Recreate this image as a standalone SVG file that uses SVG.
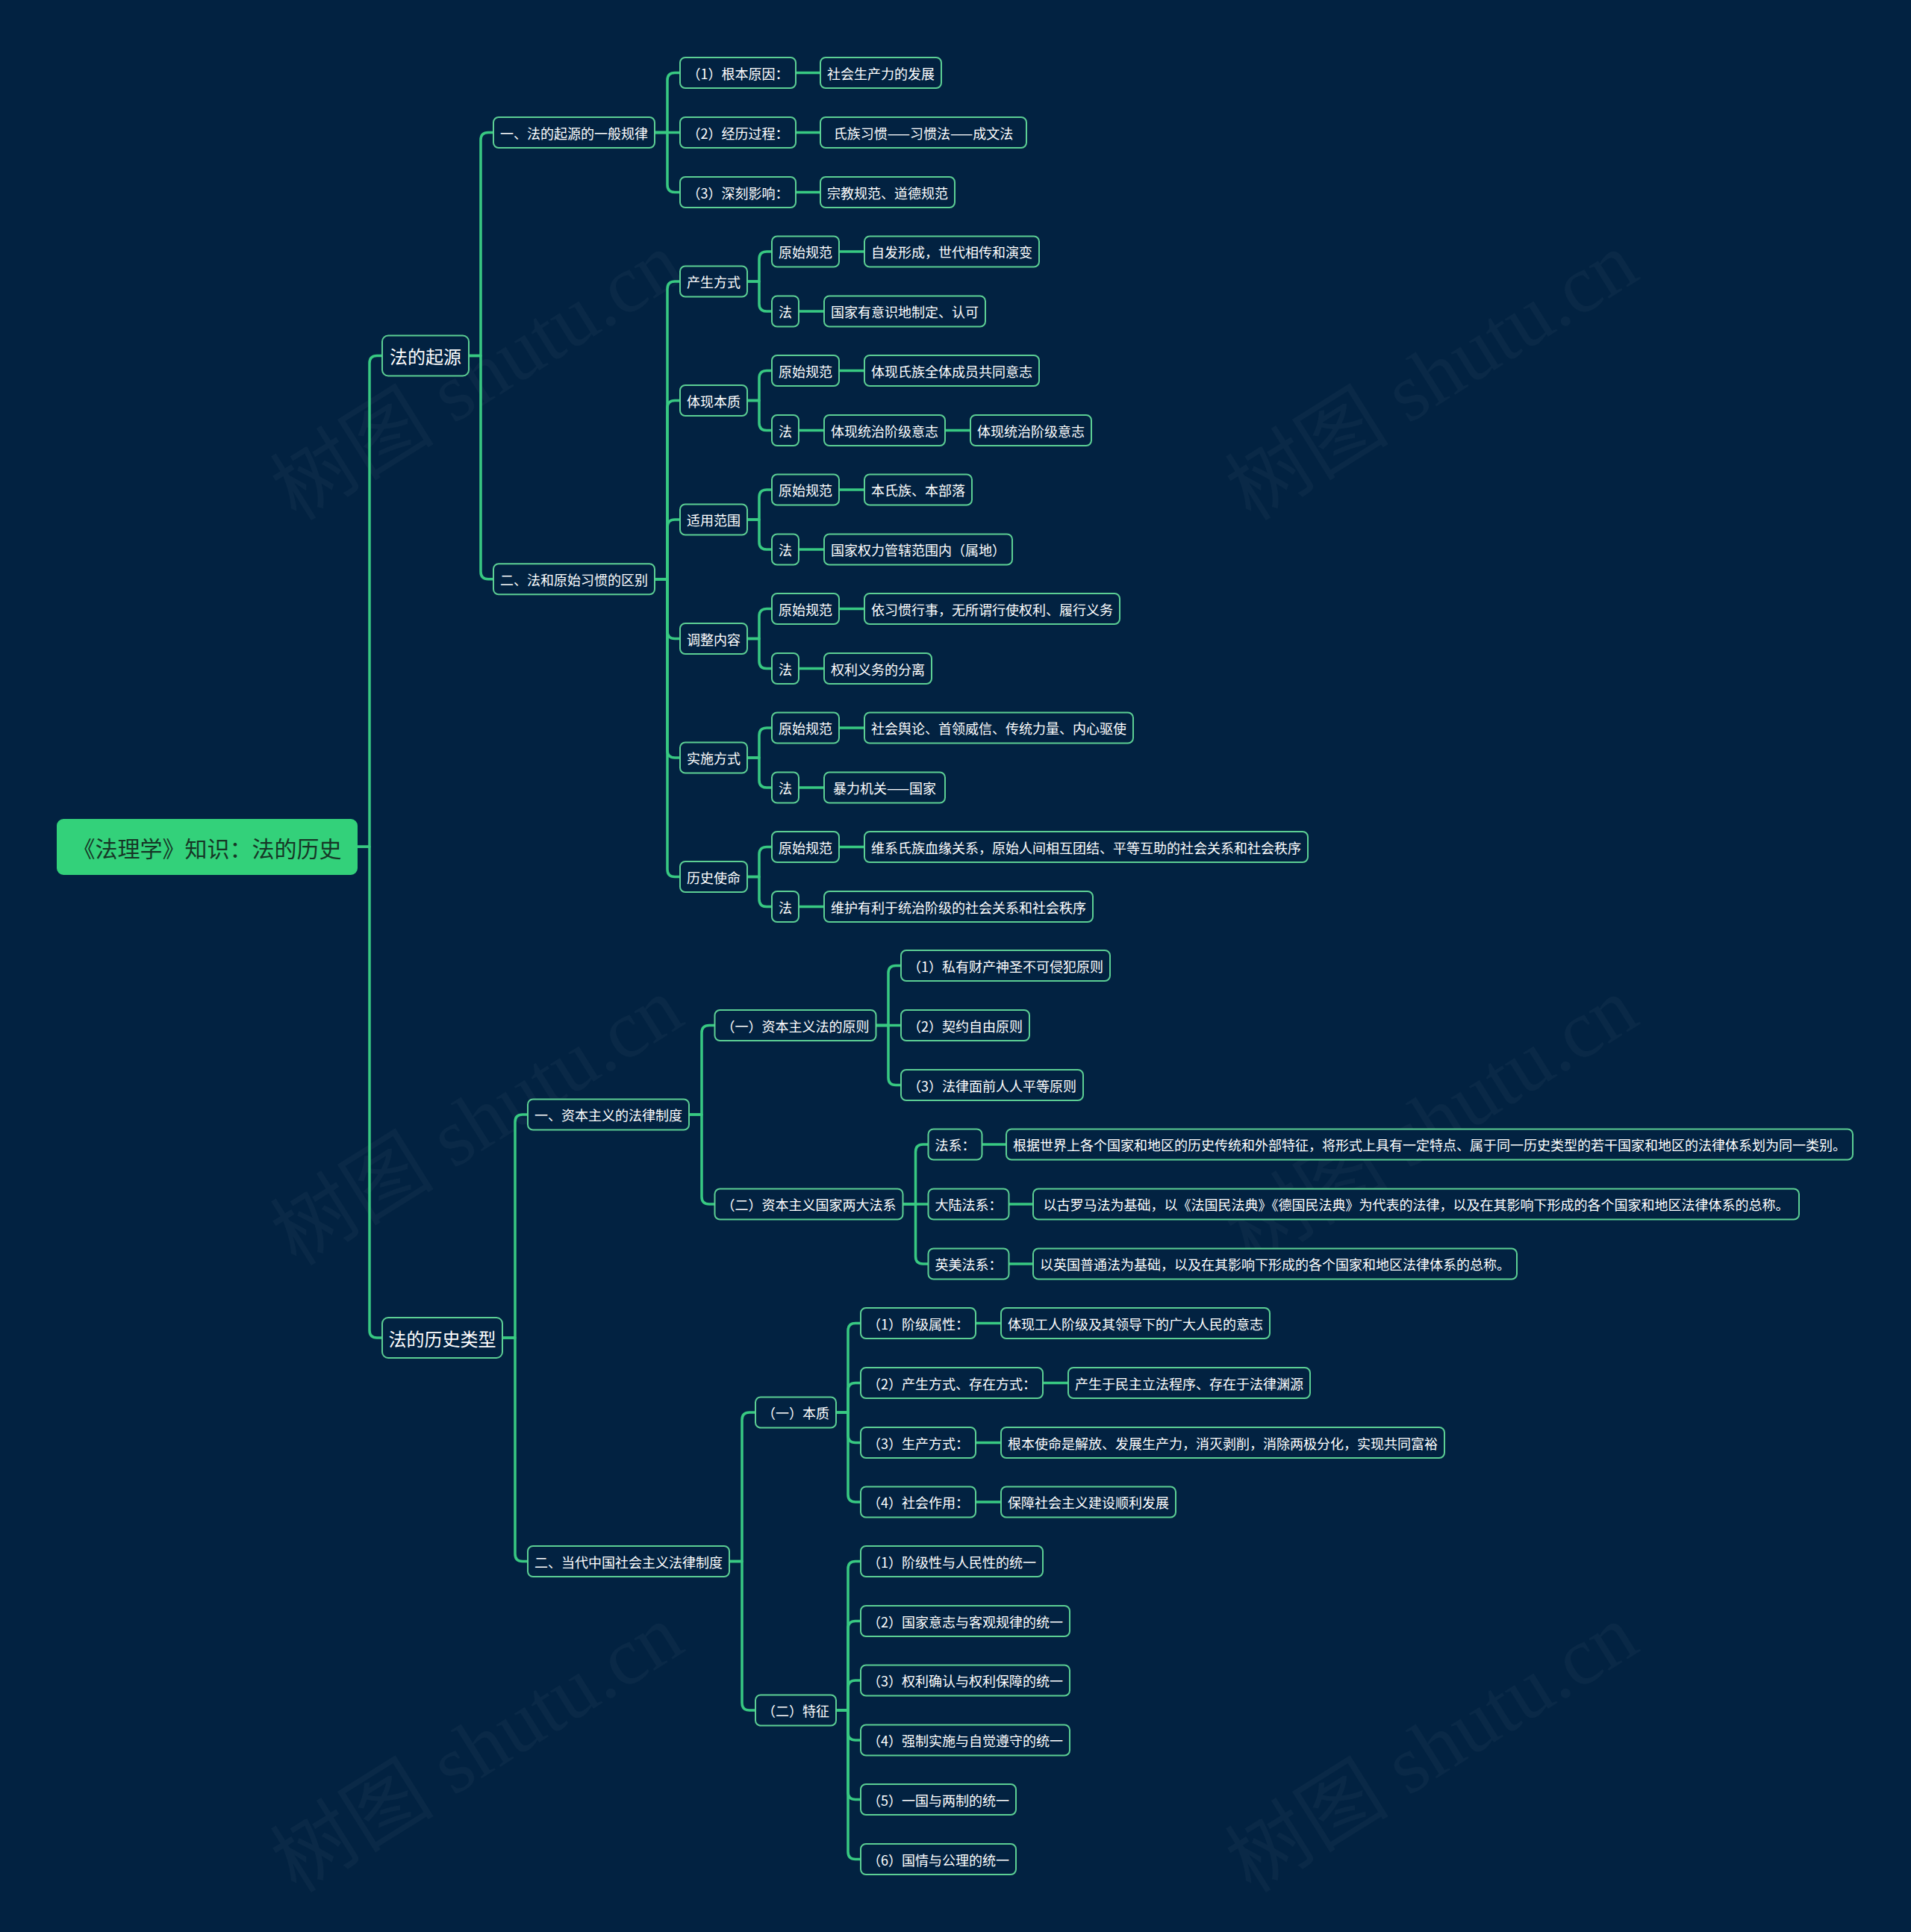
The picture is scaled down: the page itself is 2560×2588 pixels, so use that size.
<svg xmlns="http://www.w3.org/2000/svg" width="2560" height="2588" viewBox="0 0 2560 2588">
<style>
.bg{fill:#022241}
.wm{fill:#ffffff;fill-opacity:0.035;font-family:"Liberation Serif","Noto Sans CJK SC",serif;font-size:110px;text-anchor:middle}
.c path{fill:none;stroke:#38c982;stroke-width:3.5;stroke-linecap:round;stroke-linejoin:round}
.n rect{fill:#022241;stroke:#5ccf94;stroke-width:2}
.n text{fill:#ffffff;font-family:"Noto Sans CJK SC","Noto Sans CJK TC",sans-serif;font-size:18px;text-anchor:middle;dominant-baseline:central}
.l1 text{font-size:24px}
.root rect{fill:#33d17a;stroke:#33d17a}
.root text{fill:#163626;font-size:30px}
</style>
<rect class="bg" x="0" y="0" width="2560" height="2588"/>
<g id="watermarks">
<text class="wm" x="644" y="540" transform="rotate(-32 644 512)">树图 shutu.cn</text>
<text class="wm" x="1923" y="540" transform="rotate(-32 1923 512)">树图 shutu.cn</text>
<text class="wm" x="644" y="1538" transform="rotate(-32 644 1510)">树图 shutu.cn</text>
<text class="wm" x="1923" y="1538" transform="rotate(-32 1923 1510)">树图 shutu.cn</text>
<text class="wm" x="644" y="2378" transform="rotate(-32 644 2350)">树图 shutu.cn</text>
<text class="wm" x="1923" y="2378" transform="rotate(-32 1923 2350)">树图 shutu.cn</text>
</g>
<g id="connectors" class="c">
<path d="M478 1134.3 H495 V486.5 Q495 476.5 505 476.5 H512"/>
<path d="M478 1134.3 H495 V1782 Q495 1792 505 1792 H512"/>
<path d="M628 476.5 H644 V187.5 Q644 177.5 654 177.5 H661"/>
<path d="M628 476.5 H644 V765.75 Q644 775.75 654 775.75 H661"/>
<path d="M876 177.5 H894 V107.5 Q894 97.5 904 97.5 H911"/>
<path d="M876 177.5 H911"/>
<path d="M876 177.5 H894 V247.5 Q894 257.5 904 257.5 H911"/>
<path d="M1066 97.5 H1099"/>
<path d="M1066 177.5 H1099"/>
<path d="M1066 257.5 H1099"/>
<path d="M877 775.75 H894 V387 Q894 377 904 377 H911"/>
<path d="M877 775.75 H894 V546.5 Q894 536.5 904 536.5 H911"/>
<path d="M877 775.75 H894 V706 Q894 696 904 696 H911"/>
<path d="M877 775.75 H894 V845.5 Q894 855.5 904 855.5 H911"/>
<path d="M877 775.75 H894 V1005 Q894 1015 904 1015 H911"/>
<path d="M877 775.75 H894 V1164.5 Q894 1174.5 904 1174.5 H911"/>
<path d="M1001 377 H1017 V347 Q1017 337 1027 337 H1034"/>
<path d="M1001 377 H1017 V407 Q1017 417 1027 417 H1034"/>
<path d="M1001 536.5 H1017 V506.5 Q1017 496.5 1027 496.5 H1034"/>
<path d="M1001 536.5 H1017 V566.5 Q1017 576.5 1027 576.5 H1034"/>
<path d="M1001 696 H1017 V666 Q1017 656 1027 656 H1034"/>
<path d="M1001 696 H1017 V726 Q1017 736 1027 736 H1034"/>
<path d="M1001 855.5 H1017 V825.5 Q1017 815.5 1027 815.5 H1034"/>
<path d="M1001 855.5 H1017 V885.5 Q1017 895.5 1027 895.5 H1034"/>
<path d="M1001 1015 H1017 V985 Q1017 975 1027 975 H1034"/>
<path d="M1001 1015 H1017 V1045 Q1017 1055 1027 1055 H1034"/>
<path d="M1001 1174.5 H1017 V1144.5 Q1017 1134.5 1027 1134.5 H1034"/>
<path d="M1001 1174.5 H1017 V1204.5 Q1017 1214.5 1027 1214.5 H1034"/>
<path d="M1124 337 H1158"/>
<path d="M1070 417 H1104"/>
<path d="M1124 496.5 H1158"/>
<path d="M1070 576.5 H1104"/>
<path d="M1266 576.5 H1300"/>
<path d="M1124 656 H1158"/>
<path d="M1070 736 H1104"/>
<path d="M1124 815.5 H1158"/>
<path d="M1070 895.5 H1104"/>
<path d="M1124 975 H1158"/>
<path d="M1070 1055 H1104"/>
<path d="M1124 1134.5 H1158"/>
<path d="M1070 1214.5 H1104"/>
<path d="M673 1792 H690 V1503 Q690 1493 700 1493 H707"/>
<path d="M673 1792 H690 V2081.5 Q690 2091.5 700 2091.5 H707"/>
<path d="M923 1493 H940 V1383.5 Q940 1373.5 950 1373.5 H957.5"/>
<path d="M923 1493 H940 V1603 Q940 1613 950 1613 H957.5"/>
<path d="M1173.5 1373.5 H1190 V1303.5 Q1190 1293.5 1200 1293.5 H1207"/>
<path d="M1173.5 1373.5 H1207"/>
<path d="M1173.5 1373.5 H1190 V1443.5 Q1190 1453.5 1200 1453.5 H1207"/>
<path d="M1209.5 1613 H1226.5 V1543 Q1226.5 1533 1236.5 1533 H1243.5"/>
<path d="M1209.5 1613 H1243.5"/>
<path d="M1209.5 1613 H1226.5 V1683 Q1226.5 1693 1236.5 1693 H1243.5"/>
<path d="M1315.5 1533 H1348"/>
<path d="M1351.5 1613 H1384"/>
<path d="M1351.5 1693 H1384"/>
<path d="M977 2091.5 H994 V1902 Q994 1892 1004 1892 H1012"/>
<path d="M977 2091.5 H994 V2281 Q994 2291 1004 2291 H1012"/>
<path d="M1120 1892 H1136 V1782.5 Q1136 1772.5 1146 1772.5 H1153"/>
<path d="M1120 1892 H1136 V1862.5 Q1136 1852.5 1146 1852.5 H1153"/>
<path d="M1120 1892 H1136 V1922.5 Q1136 1932.5 1146 1932.5 H1153"/>
<path d="M1120 1892 H1136 V2002 Q1136 2012 1146 2012 H1153"/>
<path d="M1307 1772.5 H1341"/>
<path d="M1397 1852.5 H1431"/>
<path d="M1307 1932.5 H1341"/>
<path d="M1307 2012 H1341"/>
<path d="M1120 2291 H1136 V2101.5 Q1136 2091.5 1146 2091.5 H1153"/>
<path d="M1120 2291 H1136 V2181.5 Q1136 2171.5 1146 2171.5 H1153"/>
<path d="M1120 2291 H1136 V2261 Q1136 2251 1146 2251 H1153"/>
<path d="M1120 2291 H1136 V2321 Q1136 2331 1146 2331 H1153"/>
<path d="M1120 2291 H1136 V2400.5 Q1136 2410.5 1146 2410.5 H1153"/>
<path d="M1120 2291 H1136 V2480.5 Q1136 2490.5 1146 2490.5 H1153"/>
</g>
<g id="root" class="n root"><rect x="77" y="1098" width="401" height="73" rx="8"/><text x="277.5" y="1134.5">《法理学》知识：法的历史</text></g>
<g id="n1" class="n l1"><rect x="512" y="449.5" width="116" height="54" rx="8"/><text x="570" y="476.5">法的起源</text></g>
<g id="n2" class="n l1"><rect x="512" y="1765" width="161" height="54" rx="8"/><text x="592.5" y="1792">法的历史类型</text></g>
<g id="n1a" class="n"><rect x="661" y="157" width="216" height="41" rx="7"/><text x="769" y="177.5">一、法的起源的一般规律</text></g>
<g id="n1b" class="n"><rect x="661" y="755.25" width="216" height="41" rx="7"/><text x="769" y="775.75">二、法和原始习惯的区别</text></g>
<g id="n1a1" class="n"><rect x="911" y="77" width="155" height="41" rx="7"/><text x="988.5" y="97.5">（1）根本原因：</text></g>
<g id="n1a2" class="n"><rect x="911" y="157" width="155" height="41" rx="7"/><text x="988.5" y="177.5">（2）经历过程：</text></g>
<g id="n1a3" class="n"><rect x="911" y="237" width="155" height="41" rx="7"/><text x="988.5" y="257.5">（3）深刻影响：</text></g>
<g id="n1a1l" class="n"><rect x="1099" y="77" width="162" height="41" rx="7"/><text x="1180" y="97.5">社会生产力的发展</text></g>
<g id="n1a2l" class="n"><rect x="1099" y="157" width="276" height="41" rx="7"/><text x="1237" y="177.5">氏族习惯——习惯法——成文法</text></g>
<g id="n1a3l" class="n"><rect x="1099" y="237" width="180" height="41" rx="7"/><text x="1189" y="257.5">宗教规范、道德规范</text></g>
<g id="n1b1" class="n"><rect x="911" y="356.5" width="90" height="41" rx="7"/><text x="956" y="377">产生方式</text></g>
<g id="n1b2" class="n"><rect x="911" y="516" width="90" height="41" rx="7"/><text x="956" y="536.5">体现本质</text></g>
<g id="n1b3" class="n"><rect x="911" y="675.5" width="90" height="41" rx="7"/><text x="956" y="696">适用范围</text></g>
<g id="n1b4" class="n"><rect x="911" y="835" width="90" height="41" rx="7"/><text x="956" y="855.5">调整内容</text></g>
<g id="n1b5" class="n"><rect x="911" y="994.5" width="90" height="41" rx="7"/><text x="956" y="1015">实施方式</text></g>
<g id="n1b6" class="n"><rect x="911" y="1154" width="90" height="41" rx="7"/><text x="956" y="1174.5">历史使命</text></g>
<g id="n1b1a" class="n"><rect x="1034" y="316.5" width="90" height="41" rx="7"/><text x="1079" y="337">原始规范</text></g>
<g id="n1b1b" class="n"><rect x="1034" y="396.5" width="36" height="41" rx="7"/><text x="1052" y="417">法</text></g>
<g id="n1b2a" class="n"><rect x="1034" y="476" width="90" height="41" rx="7"/><text x="1079" y="496.5">原始规范</text></g>
<g id="n1b2b" class="n"><rect x="1034" y="556" width="36" height="41" rx="7"/><text x="1052" y="576.5">法</text></g>
<g id="n1b3a" class="n"><rect x="1034" y="635.5" width="90" height="41" rx="7"/><text x="1079" y="656">原始规范</text></g>
<g id="n1b3b" class="n"><rect x="1034" y="715.5" width="36" height="41" rx="7"/><text x="1052" y="736">法</text></g>
<g id="n1b4a" class="n"><rect x="1034" y="795" width="90" height="41" rx="7"/><text x="1079" y="815.5">原始规范</text></g>
<g id="n1b4b" class="n"><rect x="1034" y="875" width="36" height="41" rx="7"/><text x="1052" y="895.5">法</text></g>
<g id="n1b5a" class="n"><rect x="1034" y="954.5" width="90" height="41" rx="7"/><text x="1079" y="975">原始规范</text></g>
<g id="n1b5b" class="n"><rect x="1034" y="1034.5" width="36" height="41" rx="7"/><text x="1052" y="1055">法</text></g>
<g id="n1b6a" class="n"><rect x="1034" y="1114" width="90" height="41" rx="7"/><text x="1079" y="1134.5">原始规范</text></g>
<g id="n1b6b" class="n"><rect x="1034" y="1194" width="36" height="41" rx="7"/><text x="1052" y="1214.5">法</text></g>
<g id="n1b1al" class="n"><rect x="1158" y="316.5" width="234" height="41" rx="7"/><text x="1275" y="337">自发形成，世代相传和演变</text></g>
<g id="n1b1bl" class="n"><rect x="1104" y="396.5" width="216" height="41" rx="7"/><text x="1212" y="417">国家有意识地制定、认可</text></g>
<g id="n1b2al" class="n"><rect x="1158" y="476" width="234" height="41" rx="7"/><text x="1275" y="496.5">体现氏族全体成员共同意志</text></g>
<g id="n1b2bl" class="n"><rect x="1104" y="556" width="162" height="41" rx="7"/><text x="1185" y="576.5">体现统治阶级意志</text></g>
<g id="n1b2bl2" class="n"><rect x="1300" y="556" width="162" height="41" rx="7"/><text x="1381" y="576.5">体现统治阶级意志</text></g>
<g id="n1b3al" class="n"><rect x="1158" y="635.5" width="144" height="41" rx="7"/><text x="1230" y="656">本氏族、本部落</text></g>
<g id="n1b3bl" class="n"><rect x="1104" y="715.5" width="252" height="41" rx="7"/><text x="1230" y="736">国家权力管辖范围内（属地）</text></g>
<g id="n1b4al" class="n"><rect x="1158" y="795" width="342" height="41" rx="7"/><text x="1329" y="815.5">依习惯行事，无所谓行使权利、履行义务</text></g>
<g id="n1b4bl" class="n"><rect x="1104" y="875" width="144" height="41" rx="7"/><text x="1176" y="895.5">权利义务的分离</text></g>
<g id="n1b5al" class="n"><rect x="1158" y="954.5" width="360" height="41" rx="7"/><text x="1338" y="975">社会舆论、首领威信、传统力量、内心驱使</text></g>
<g id="n1b5bl" class="n"><rect x="1104" y="1034.5" width="162" height="41" rx="7"/><text x="1185" y="1055">暴力机关——国家</text></g>
<g id="n1b6al" class="n"><rect x="1158" y="1114" width="594" height="41" rx="7"/><text x="1455" y="1134.5">维系氏族血缘关系，原始人间相互团结、平等互助的社会关系和社会秩序</text></g>
<g id="n1b6bl" class="n"><rect x="1104" y="1194" width="360" height="41" rx="7"/><text x="1284" y="1214.5">维护有利于统治阶级的社会关系和社会秩序</text></g>
<g id="n2a" class="n"><rect x="707" y="1472.5" width="216" height="41" rx="7"/><text x="815" y="1493">一、资本主义的法律制度</text></g>
<g id="n2b" class="n"><rect x="707" y="2071" width="270" height="41" rx="7"/><text x="842" y="2091.5">二、当代中国社会主义法律制度</text></g>
<g id="n2a1" class="n"><rect x="957.5" y="1353" width="216" height="41" rx="7"/><text x="1065.5" y="1373.5">（一）资本主义法的原则</text></g>
<g id="n2a2" class="n"><rect x="957.5" y="1592.5" width="252" height="41" rx="7"/><text x="1083.5" y="1613">（二）资本主义国家两大法系</text></g>
<g id="n2a1a" class="n"><rect x="1207" y="1273" width="280" height="41" rx="7"/><text x="1347" y="1293.5">（1）私有财产神圣不可侵犯原则</text></g>
<g id="n2a1b" class="n"><rect x="1207" y="1353" width="172" height="41" rx="7"/><text x="1293" y="1373.5">（2）契约自由原则</text></g>
<g id="n2a1c" class="n"><rect x="1207" y="1433" width="244" height="41" rx="7"/><text x="1329" y="1453.5">（3）法律面前人人平等原则</text></g>
<g id="n2a2a" class="n"><rect x="1243.5" y="1512.5" width="72" height="41" rx="7"/><text x="1279.5" y="1533">法系：</text></g>
<g id="n2a2b" class="n"><rect x="1243.5" y="1592.5" width="108" height="41" rx="7"/><text x="1297.5" y="1613">大陆法系：</text></g>
<g id="n2a2c" class="n"><rect x="1243.5" y="1672.5" width="108" height="41" rx="7"/><text x="1297.5" y="1693">英美法系：</text></g>
<g id="n2a2al" class="n"><rect x="1348" y="1512.5" width="1134" height="41" rx="7"/><text x="1915" y="1533">根据世界上各个国家和地区的历史传统和外部特征，将形式上具有一定特点、属于同一历史类型的若干国家和地区的法律体系划为同一类别。</text></g>
<g id="n2a2bl" class="n"><rect x="1384" y="1592.5" width="1026" height="41" rx="7"/><text x="1897" y="1613">以古罗马法为基础，以《法国民法典》《德国民法典》为代表的法律，以及在其影响下形成的各个国家和地区法律体系的总称。</text></g>
<g id="n2a2cl" class="n"><rect x="1384" y="1672.5" width="648" height="41" rx="7"/><text x="1708" y="1693">以英国普通法为基础，以及在其影响下形成的各个国家和地区法律体系的总称。</text></g>
<g id="n2b1" class="n"><rect x="1012" y="1871.5" width="108" height="41" rx="7"/><text x="1066" y="1892">（一）本质</text></g>
<g id="n2b2" class="n"><rect x="1012" y="2270.5" width="108" height="41" rx="7"/><text x="1066" y="2291">（二）特征</text></g>
<g id="n2b1a" class="n"><rect x="1153" y="1752" width="154" height="41" rx="7"/><text x="1230" y="1772.5">（1）阶级属性：</text></g>
<g id="n2b1b" class="n"><rect x="1153" y="1832" width="244" height="41" rx="7"/><text x="1275" y="1852.5">（2）产生方式、存在方式：</text></g>
<g id="n2b1c" class="n"><rect x="1153" y="1912" width="154" height="41" rx="7"/><text x="1230" y="1932.5">（3）生产方式：</text></g>
<g id="n2b1d" class="n"><rect x="1153" y="1991.5" width="154" height="41" rx="7"/><text x="1230" y="2012">（4）社会作用：</text></g>
<g id="n2b1al" class="n"><rect x="1341" y="1752" width="360" height="41" rx="7"/><text x="1521" y="1772.5">体现工人阶级及其领导下的广大人民的意志</text></g>
<g id="n2b1bl" class="n"><rect x="1431" y="1832" width="324" height="41" rx="7"/><text x="1593" y="1852.5">产生于民主立法程序、存在于法律渊源</text></g>
<g id="n2b1cl" class="n"><rect x="1341" y="1912" width="594" height="41" rx="7"/><text x="1638" y="1932.5">根本使命是解放、发展生产力，消灭剥削，消除两极分化，实现共同富裕</text></g>
<g id="n2b1dl" class="n"><rect x="1341" y="1991.5" width="234" height="41" rx="7"/><text x="1458" y="2012">保障社会主义建设顺利发展</text></g>
<g id="n2b2a" class="n"><rect x="1153" y="2071" width="244" height="41" rx="7"/><text x="1275" y="2091.5">（1）阶级性与人民性的统一</text></g>
<g id="n2b2b" class="n"><rect x="1153" y="2151" width="280" height="41" rx="7"/><text x="1293" y="2171.5">（2）国家意志与客观规律的统一</text></g>
<g id="n2b2c" class="n"><rect x="1153" y="2230.5" width="280" height="41" rx="7"/><text x="1293" y="2251">（3）权利确认与权利保障的统一</text></g>
<g id="n2b2d" class="n"><rect x="1153" y="2310.5" width="280" height="41" rx="7"/><text x="1293" y="2331">（4）强制实施与自觉遵守的统一</text></g>
<g id="n2b2e" class="n"><rect x="1153" y="2390" width="208" height="41" rx="7"/><text x="1257" y="2410.5">（5）一国与两制的统一</text></g>
<g id="n2b2f" class="n"><rect x="1153" y="2470" width="208" height="41" rx="7"/><text x="1257" y="2490.5">（6）国情与公理的统一</text></g>
</svg>
